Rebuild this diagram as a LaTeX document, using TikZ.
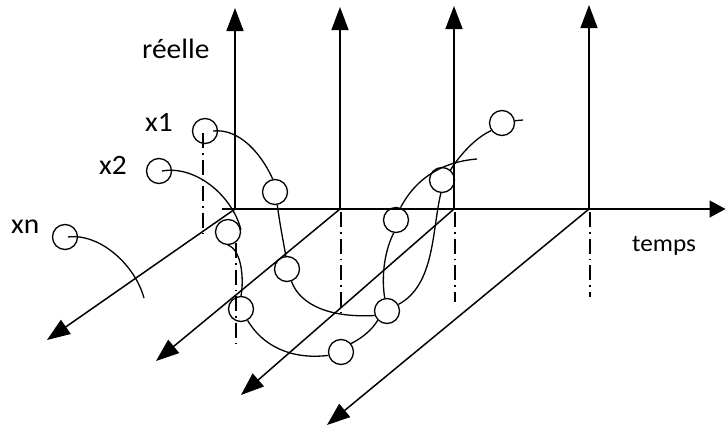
\documentclass[tikz,border=0pt]{standalone}
\usepackage{fontspec}
\setmainfont{Carlito}
\newfontfamily\lblfont[FakeStretch=1.05]{Carlito}
\usetikzlibrary{arrows.meta}
\begin{document}
\begin{tikzpicture}[x=1pt,y=-1pt,
  axis/.style={line width=1.5pt,-{Triangle[length=23pt,width=17pt]}},
  haxis/.style={line width=1.5pt,-{Triangle[length=16pt,width=17pt]}},
  curve/.style={line width=1.3pt},
  proj/.style={line width=1.1pt,dash pattern=on 15pt off 5pt on 1.5pt off 5pt},
  state/.style={circle,draw,line width=1.3pt,minimum size=25pt,inner sep=0pt},
  lbl/.style={anchor=base west,inner sep=0pt,font=\lblfont\fontsize{28}{30}\selectfont},
  tlbl/.style={anchor=base west,inner sep=0pt,font=\lblfont\fontsize{24}{26}\selectfont}]
\useasboundingbox (0,0) rectangle (726,426);

% axes origins and tips
\coordinate (o1) at (235,209);
\coordinate (o2) at (340,209);
\coordinate (o3) at (454,209);
\coordinate (o4) at (589,209);
\coordinate (u1) at (235,8);
\coordinate (u2) at (340,7);
\coordinate (u3) at (454,6);
\coordinate (u4) at (589,5);
\coordinate (d1) at (47,340);
\coordinate (d2) at (156,361);
\coordinate (d3) at (241,395);
\coordinate (d4) at (327,425);
\coordinate (h0) at (222,209);
\coordinate (h1) at (725.5,209);

% projection lines (dash-dot)
\coordinate (p0a) at (203,133); \coordinate (p0b) at (203,238);
\coordinate (p1a) at (236,243); \coordinate (p1b) at (236,344);
\coordinate (p2a) at (341,212); \coordinate (p2b) at (341,313);
\coordinate (p3a) at (455,212); \coordinate (p3b) at (455,302);
\coordinate (p4a) at (590,212); \coordinate (p4b) at (590,297);
\draw[proj] (p0a) -- (p0b);
\draw[proj] (p1a) -- (p1b);
\draw[proj] (p2a) -- (p2b);
\draw[proj] (p3a) -- (p3b);
\draw[proj] (p4a) -- (p4b);

% axes
\draw[haxis] (h0) -- (h1);
\draw[axis] (o1) -- (u1);
\draw[axis] (o2) -- (u2);
\draw[axis] (o3) -- (u3);
\draw[axis] (o4) -- (u4);
\draw[axis] (o1) -- (d1);
\draw[axis] (o2) -- (d2);
\draw[axis] (o3) -- (d3);
\draw[axis] (o4) -- (d4);

% states
\node[state] (x1c) at (205,131) {};
\node[state] (x2c) at (159,171) {};
\node[state] (xnc) at (65,237) {};
\node[state] (A) at (275,192) {};
\node[state] (B) at (228,232) {};
\node[state] (C) at (287,269) {};
\node[state] (D) at (241,309) {};
\node[state] (E) at (341,352) {};
\node[state] (F) at (396,220) {};
\node[state] (G) at (442,180) {};
\node[state] (H) at (387,311) {};
\node[state] (I) at (502,123) {};

% free ends
\coordinate (tF) at (477,159);
\coordinate (tI) at (523,120);
\coordinate (tn) at (144,298);

% trajectories
\draw[curve] ([xshift=8pt]x1c.center) .. controls (240,128) and (262,155) .. (A.100);
\draw[curve] (A.280) .. controls (280,225) and (283,240) .. (C.95);
\draw[curve] (C.290) .. controls (300,305) and (330,318) .. (H.200);
\draw[curve] ([xshift=3pt]x2c.center) .. controls (195,165) and (232,195) .. (B.10);
\draw[curve] (B.south) .. controls (242,250) and (244,280) .. (D.north);
\draw[curve] (D.300) .. controls (262,345) and (290,360) .. (E.195);
\draw[curve] (E.40) .. controls (362,338) and (372,330) .. (H.225);
\draw[curve] (H.100) .. controls (381,275) and (385,250) .. (F.260);
\draw[curve] (F.70) .. controls (415,180) and (440,162) .. (tF);
\draw[curve] (G.265) .. controls (432,230) and (435,285) .. (H.30);
\draw[curve] (G.50) .. controls (460,155) and (475,138) .. (I.215);
\draw[curve] (I.10) -- (tI);
\draw[curve] ([xshift=3pt]xnc.center) .. controls (100,233) and (135,265) .. (tn);

% labels
\node[lbl] (lr) at (142,58) {réelle};
\node[lbl] (l1) at (145,131) {x1};
\node[lbl] (l2) at (99,174) {x2};
\node[lbl] (ln) at (11,233) {xn};
\node[tlbl] (lt) at (632,251) {temps};
\end{tikzpicture}
\end{document}
